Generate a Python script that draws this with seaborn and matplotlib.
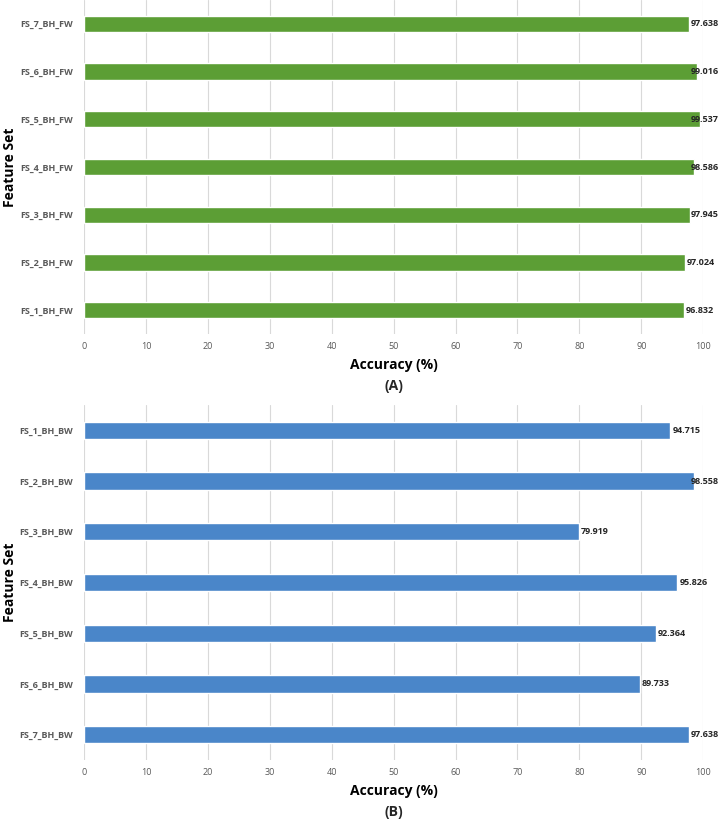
import matplotlib
matplotlib.use("Agg")
import matplotlib.pyplot as plt
import seaborn as sns

# panel A (forward), listed top to bottom
fw_sets = ['FS_7_BH_FW', 'FS_6_BH_FW', 'FS_5_BH_FW', 'FS_4_BH_FW',
           'FS_3_BH_FW', 'FS_2_BH_FW', 'FS_1_BH_FW']
fw_acc = [97.638, 99.016, 99.537, 98.586, 97.945, 97.024, 96.832]

# panel B (backward), listed top to bottom
bw_sets = ['FS_1_BH_BW', 'FS_2_BH_BW', 'FS_3_BH_BW', 'FS_4_BH_BW',
           'FS_5_BH_BW', 'FS_6_BH_BW', 'FS_7_BH_BW']
bw_acc = [94.715, 98.558, 79.919, 95.826, 92.364, 89.733, 97.638]

sns.set_theme(style="whitegrid")
plt.rcParams['font.family'] = ['Open Sans', 'DejaVu Sans']

fig = plt.figure(figsize=(7.19, 8.19), dpi=100)
ax_a = fig.add_axes([0.117, 0.592, 0.861, 0.408])
ax_b = fig.add_axes([0.117, 0.072, 0.861, 0.4335])


def draw(ax, sets, acc, colour, tag):
    sns.barplot(x=acc, y=sets, orient='h', color=colour, width=0.34,
                saturation=1, ax=ax)
    ax.set_xlim(0, 100)
    ax.set_ylim(len(sets) - 0.5, -0.5)
    ax.set_xticks(range(0, 101, 10))
    ax.grid(axis='y', visible=False)
    ax.grid(axis='x', color='#d9d9d9', linewidth=0.8)
    for s in ax.spines.values():
        s.set_visible(False)
    ax.tick_params(axis='y', labelsize=6.5, labelcolor='#595959', pad=8, length=0)
    ax.tick_params(axis='x', labelsize=6.5, labelcolor='#595959', pad=6, length=0)
    for t in ax.get_yticklabels():
        t.set_fontweight('bold')
    # value labels (clamped near the right edge like the original)
    for i, v in enumerate(acc):
        ax.annotate(f'{v:.3f}', xy=(min(v, 97.7), i), xytext=(1.5, 0),
                    textcoords='offset points', ha='left', va='center',
                    fontsize=6.5, fontweight='bold', color='#262626',
                    annotation_clip=False)
    ax.set_xlabel('Accuracy (%)', fontsize=10, fontweight='bold',
                  color='black', labelpad=5)
    ax.set_ylabel('Feature Set', fontsize=10, fontweight='bold',
                  color='black')
    ax.yaxis.set_label_coords(-0.108, 0.5)
    ax.text(0.5, -0.155 if tag == '(A)' else -0.145, tag, transform=ax.transAxes,
            ha='center', va='center', fontsize=10, fontweight='bold')


draw(ax_a, fw_sets, fw_acc, '#5c9e35', '(A)')
draw(ax_b, bw_sets, bw_acc, '#4a86c9', '(B)')

fig.savefig('out.png', dpi=100)
